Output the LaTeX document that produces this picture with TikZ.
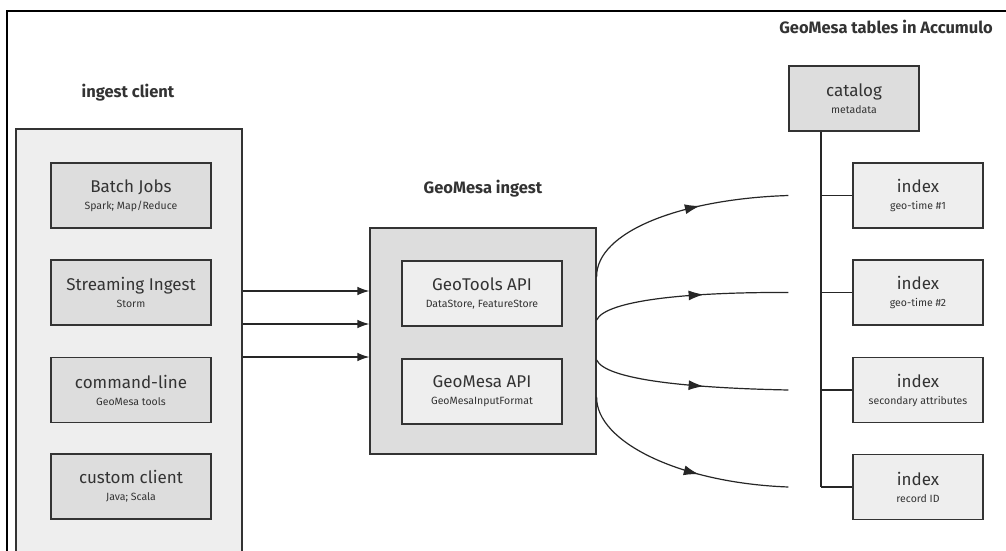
\documentclass[tikz,border=0pt]{standalone}
\usepackage{fontspec}
\setmainfont{Fira Sans}
\usetikzlibrary{arrows.meta,decorations.markings}
\definecolor{boxlight}{HTML}{EEEEEE}
\definecolor{boxdark}{HTML}{DDDDDD}
\definecolor{edgec}{HTML}{333333}
\definecolor{txtc}{HTML}{333333}
\newcommand\subtxt[1]{\\[-1pt]{\fontsize{10.5}{12}\selectfont #1}}
\begin{document}
\begin{tikzpicture}[x=1pt,y=-1pt,
  container/.style={draw=edgec, line width=1.2pt, fill=boxlight, inner sep=0pt},
  bigbox/.style={draw=edgec, line width=1.2pt, fill=boxdark, inner sep=0pt},
  item/.style={draw=edgec, line width=1.2pt, minimum width=160pt, minimum height=65pt,
    align=center, text=txtc, font=\fontsize{17}{18}\selectfont, inner sep=0pt},
  tbl/.style={item, minimum width=130pt},
  title/.style={font=\bfseries\fontsize{16.5}{18}\selectfont, text=txtc, inner sep=0pt},
  link/.style={draw=black!85, line width=1.2pt},
  feed/.style={link, -{Latex[length=12pt,width=8.5pt]}},
  flow/.style={link, postaction=decorate, decoration={markings,
    mark=at position #1 with {\arrow{Latex[length=15pt,width=10pt]}}}},
]
\clip (0,0) rectangle (1006,551);
\fill[white] (0,0) rectangle (1006,551);
% outer frame (only left and top edges visible)
\draw[line width=2pt, black] (7,551) -- (7,11) -- (1006,11);

% titles
\node[title] (t1) at (128,93) {ingest client};
\node[title] (t2) at (483,189) {GeoMesa ingest};
\node[title] (t3) at (886,27) {GeoMesa tables in Accumulo};

% ingest client container
\node[container, minimum width=226pt, minimum height=424pt] (ic) at (129,341) {};
\node[item, fill=boxdark] (batch) at (131,195.5) {Batch Jobs\subtxt{Spark; Map/Reduce}};
\node[item, fill=boxdark] (stream) at (131,292.5) {Streaming Ingest\subtxt{Storm}};
\node[item, fill=boxdark] (cmd) at (131,390) {command-line\subtxt{GeoMesa tools}};
\node[item, fill=boxdark] (custom) at (131,486.5) {custom client\subtxt{Java; Scala}};

% GeoMesa ingest
\node[bigbox, minimum width=226pt, minimum height=226pt] (gi) at (483,341) {};
\node[item, fill=boxlight] (gt) at (482,293.5) {GeoTools API\subtxt{DataStore, FeatureStore}};
\node[item, fill=boxlight] (gm) at (482,391.5) {GeoMesa API\subtxt{GeoMesaInputFormat}};

% Accumulo tables
\node[tbl, fill=boxdark] (catalog) at (854,98.5) {catalog\subtxt{metadata}};
\node[tbl, fill=boxlight] (idx1) at (918,195.5) {index\subtxt{geo-time \#1}};
\node[tbl, fill=boxlight] (idx2) at (918,292.5) {index\subtxt{geo-time \#2}};
\node[tbl, fill=boxlight] (idx3) at (918,390) {index\subtxt{secondary attributes}};
\node[tbl, fill=boxlight] (idx4) at (918,487) {index\subtxt{record ID}};

% helper coordinates
\coordinate (a1) at (0,291);
\coordinate (a2) at (0,324);
\coordinate (a3) at (0,357);
\coordinate (s1) at (0,277);
\coordinate (s2) at (0,320);
\coordinate (s3) at (0,360);
\coordinate (s4) at (0,397);
\coordinate (trunk) at (821,0);

% ingest client -> GeoMesa ingest
\draw[feed] (ic.east |- a1) -- (gi.west |- a1);
\draw[feed] (ic.east |- a2) -- (gi.west |- a2);
\draw[feed] (ic.east |- a3) -- (gi.west |- a3);

% GeoMesa ingest -> tables
\draw[flow=0.6] (gi.east |- s1) .. controls (596,232) and (680,199) .. (catalog.west |- idx1.west);
\draw[flow=0.57] (gi.east |- s2) .. controls (606,300) and (690,292) .. (catalog.west |- idx2.west);
\draw[flow=0.57] (gi.east |- s3) .. controls (606,380) and (690,388) .. (catalog.west |- idx3.west);
\draw[flow=0.6] (gi.east |- s4) .. controls (596,442) and (680,483) .. (catalog.west |- idx4.west);

% table tree
\draw[link] (trunk |- catalog.south) -- (trunk |- idx4.west);
\draw[link] (trunk |- idx1.west) -- (idx1.west);
\draw[link] (trunk |- idx2.west) -- (idx2.west);
\draw[link] (trunk |- idx3.west) -- (idx3.west);
\draw[link] (trunk |- idx4.west) -- (idx4.west);
\end{tikzpicture}
\end{document}
